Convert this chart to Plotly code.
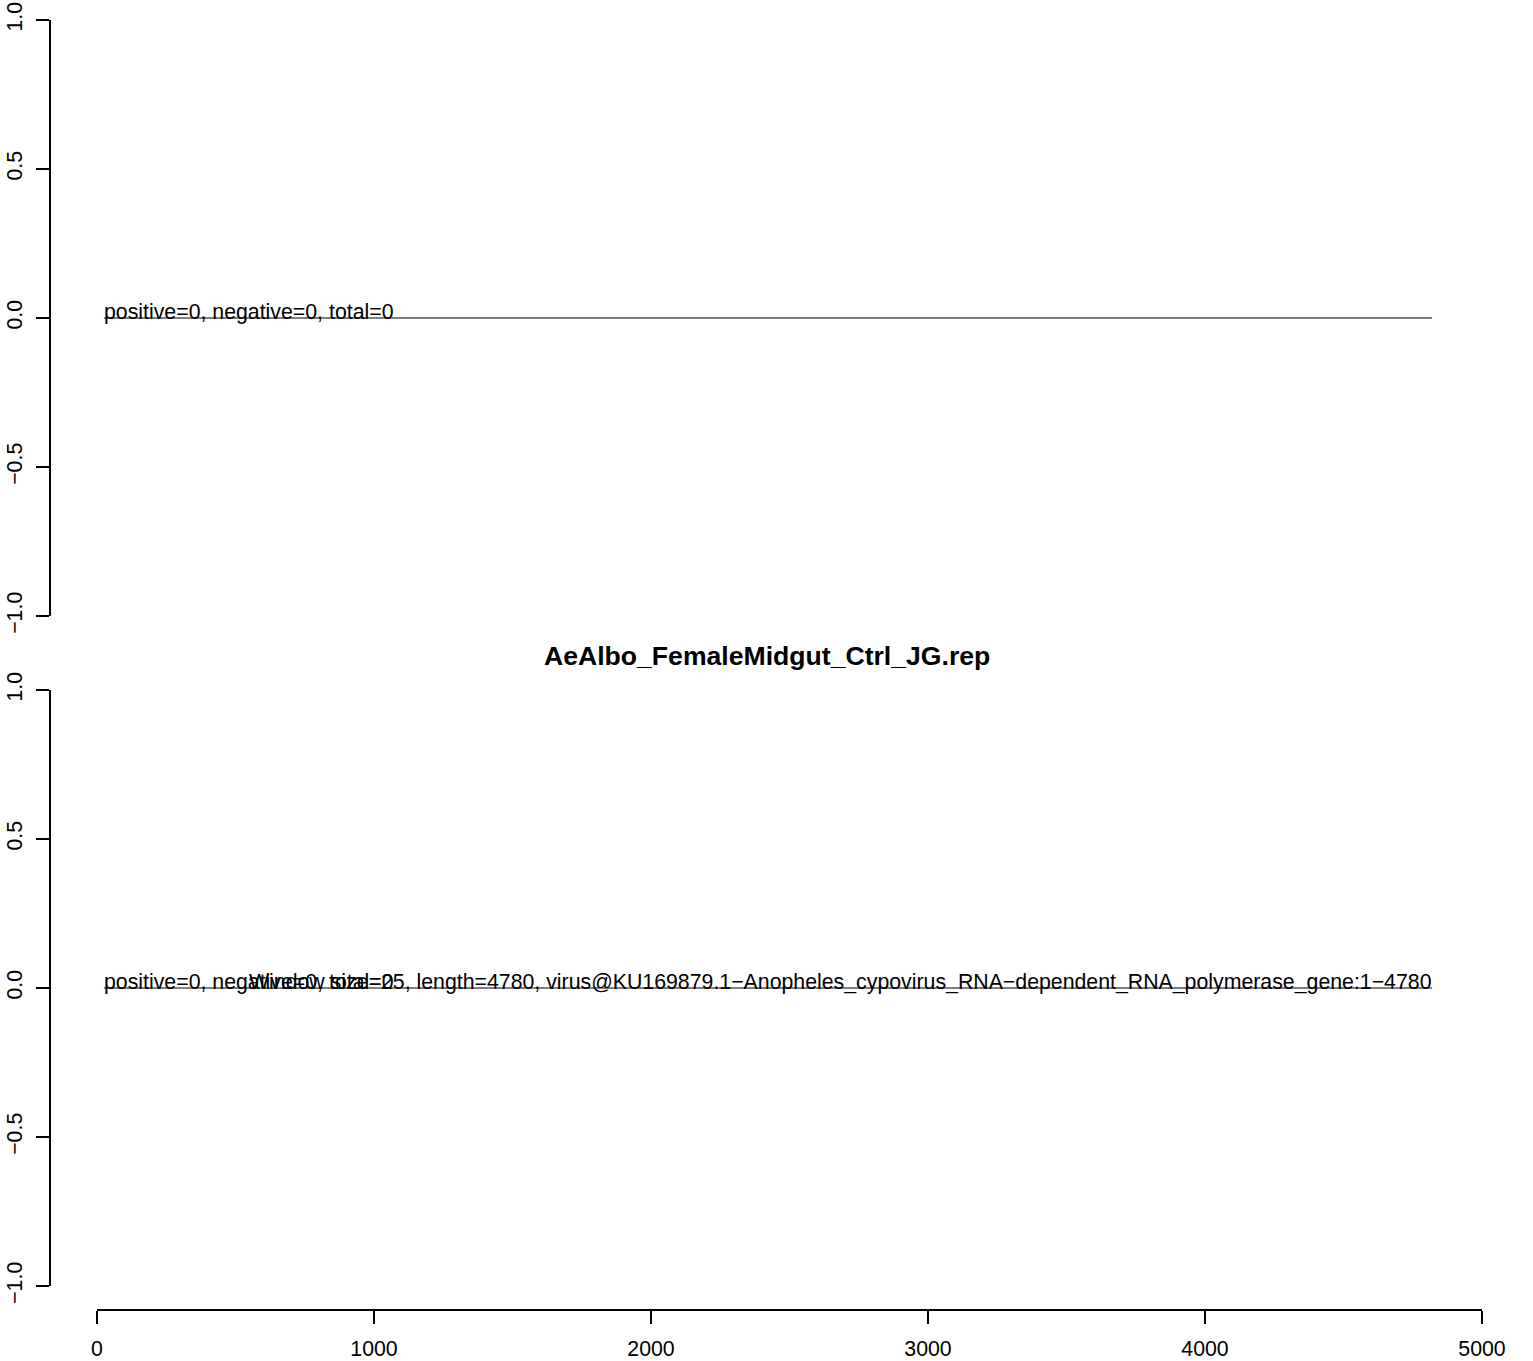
import plotly.graph_objects as go

# ---- data ----
title_text = "AeAlbo_FemaleMidgut_Ctrl_JG.rep"
line_x = [25, 4820]
top_line_y = [0, 0]
bottom_line_y = [0, 0]
top_label = "positive=0, negative=0, total=0"
bottom_label = "positive=0, negative=0, total=0"
info_label = ("Window size=25, length=4780, virus@KU169879.1\u2212Anopheles_cypovirus_RNA\u2212"
              "dependent_RNA_polymerase_gene:1\u22124780")
x_ticks = [0, 1000, 2000, 3000, 4000, 5000]
y_ticks = [-1.0, -0.5, 0.0, 0.5, 1.0]
y_tick_text = ["\u22121.0", "\u22120.5", "0.0", "0.5", "1.0"]

W, H = 1533, 1361
FONT = "Liberation Sans, Arial, sans-serif"
FS = 21.3

def fx(px):
    return px / W

def fy(py):
    return (H - py) / H

fig = go.Figure()
fig.add_trace(go.Scatter(x=line_x, y=top_line_y, mode="lines",
                         line=dict(color="#555555", width=1.5),
                         xaxis="x", yaxis="y", hoverinfo="skip", showlegend=False))
fig.add_trace(go.Scatter(x=line_x, y=bottom_line_y, mode="lines",
                         line=dict(color="#555555", width=1.5),
                         xaxis="x2", yaxis="y2", hoverinfo="skip", showlegend=False))

xdom = [fx(97), fx(1482)]
common_y = dict(range=[-1, 1], tickvals=y_ticks, ticktext=y_tick_text,
                tickangle=-90, ticks="outside", ticklen=13, tickwidth=1.5,
                tickcolor="black", showline=True, linecolor="black", linewidth=1.5,
                showgrid=False, zeroline=False, anchor="free", position=fx(50),
                automargin=False, ticklabelstandoff=6,
                tickfont=dict(family=FONT, size=FS, color="black"))

fig.update_layout(
    template="none",
    width=W, height=H,
    margin=dict(l=0, r=0, t=0, b=0, pad=0),
    paper_bgcolor="white", plot_bgcolor="white",
    showlegend=False,
    xaxis=dict(domain=xdom, range=[0, 5000], tickvals=x_ticks,
               ticks="outside", ticklen=13, tickwidth=1.5, tickcolor="black",
               showline=True, linecolor="black", linewidth=1.5,
               showgrid=False, zeroline=False, anchor="free", position=fy(1310),
               automargin=False, ticklabelstandoff=7,
               tickfont=dict(family=FONT, size=FS, color="black")),
    xaxis2=dict(domain=xdom, range=[0, 5000], matches="x", visible=False,
                anchor="y2", automargin=False),
    yaxis=dict(domain=[fy(616), fy(20)], **common_y),
    yaxis2=dict(domain=[fy(1286), fy(690)], **common_y),
)

ann_font = dict(family=FONT, size=FS, color="black")
fig.add_annotation(x=line_x[0], y=0, xref="x", yref="y", text=top_label,
                   showarrow=False, xanchor="left", yanchor="bottom",
                   xshift=-2, yshift=-8, font=ann_font)
fig.add_annotation(x=line_x[0], y=0, xref="x2", yref="y2", text=bottom_label,
                   showarrow=False, xanchor="left", yanchor="bottom",
                   xshift=-2, yshift=-8, font=ann_font)
fig.add_annotation(x=line_x[1], y=0, xref="x2", yref="y2", text=info_label,
                   showarrow=False, xanchor="right", yanchor="bottom",
                   xshift=2, yshift=-8, font=ann_font)
fig.add_annotation(x=fx(767), y=fy(656), xref="paper", yref="paper",
                   text="<b>" + title_text + "</b>", showarrow=False,
                   xanchor="center", yanchor="middle",
                   font=dict(family=FONT, size=26.6, color="black"))

fig.write_html("out.html",
               config={"displayModeBar": False},
               post_script="document.body.style.margin='0px';"
                           "document.body.style.overflow='hidden';")
